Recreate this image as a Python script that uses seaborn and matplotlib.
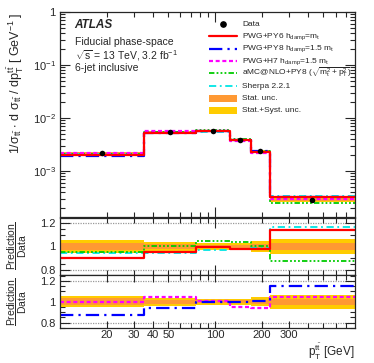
import numpy as np
import pandas as pd
import matplotlib
matplotlib.use("Agg")
import matplotlib.pyplot as plt
import seaborn as sns
from matplotlib.lines import Line2D
from matplotlib.patches import Rectangle
from matplotlib.ticker import FixedLocator, NullFormatter, FuncFormatter, MultipleLocator, LogLocator

# bins of p_T(ttbar) [GeV]
edges = [10, 35, 75, 125, 170, 225, 800]
centers = [18.7, 51.2, 96.8, 145.8, 195.6, 424.0]

# normalised differential cross-section [GeV^-1]
data = [2.20e-3, 5.40e-3, 5.70e-3, 3.90e-3, 2.35e-3, 2.84e-4]
stat_rel = [0.032, 0.020, 0.015, 0.012, 0.020, 0.030]
tot_rel = [0.055, 0.040, 0.030, 0.030, 0.043, 0.068]

# predictions [GeV^-1]
pwg_py6 = [1.98e-3, 5.16e-3, 5.67e-3, 3.82e-3, 2.30e-3, 3.24e-4]
pwg_py8 = [1.93e-3, 5.10e-3, 5.67e-3, 3.90e-3, 2.37e-3, 3.28e-4]
pwg_h7 = [2.20e-3, 5.62e-3, 5.73e-3, 3.72e-3, 2.20e-3, 2.98e-4]
amc_py8 = [2.10e-3, 5.40e-3, 5.99e-3, 4.04e-3, 2.35e-3, 2.49e-4]
sherpa = [2.08e-3, 5.10e-3, 5.53e-3, 3.82e-3, 2.31e-3, 3.31e-4]

RED = "#ff0000"
BLUE = "#0000ff"
MAG = "#ff00ff"
GREEN = "#00cc00"
CYAN = "#00e5e5"
ORANGE = "#ff9933"
YELLOW = "#ffcc00"

models = {
    "PWG+PY6": dict(vals=pwg_py6, color=RED, ls="-", lw=1.6,
                    label=r"PWG+PY6 h$_{\rm damp}$=m$_{\rm t}$"),
    "PWG+PY8": dict(vals=pwg_py8, color=BLUE, ls=(0, (6, 2.3, 1, 2.3)), lw=1.6,
                    label=r"PWG+PY8 h$_{\rm damp}$=1.5 m$_{\rm t}$"),
    "PWG+H7": dict(vals=pwg_h7, color=MAG, ls=(0, (1.8, 1.2)), lw=1.6,
                   label=r"PWG+H7 h$_{\rm damp}$=1.5 m$_{\rm t}$"),
    "aMC": dict(vals=amc_py8, color=GREEN, ls=(0, (3, 1.2, 1, 1.2, 1, 1.2, 1, 1.2)), lw=1.3,
                label=r"aMC@NLO+PY8 ($\sqrt{\rm m_t^2 + p_T^2}$)"),
    "Sherpa": dict(vals=sherpa, color=CYAN, ls=(0, (4, 2, 1, 2)), lw=1.3,
                   label="Sherpa 2.2.1"),
}

sns.set_theme(style="ticks")
plt.rcParams["font.family"] = ["Liberation Sans", "DejaVu Sans"]
plt.rcParams["mathtext.fontset"] = "custom"
plt.rcParams["mathtext.rm"] = "Liberation Sans"
plt.rcParams["mathtext.it"] = "Liberation Sans:italic"
plt.rcParams["mathtext.bf"] = "Liberation Sans:bold"
plt.rcParams["mathtext.default"] = "regular"

fig = plt.figure(figsize=(3.74, 3.63), dpi=100)
L, W = 0.160, 0.789
ax = fig.add_axes([L, 0.402, W, 0.565])
r1 = fig.add_axes([L, 0.243, W, 0.157])
r2 = fig.add_axes([L, 0.097, W, 0.145])

edges_a = np.array(edges, dtype=float)
data_a = np.array(data)


def ext(v):
    v = np.asarray(v, dtype=float)
    return np.append(v, v[-1])


def step_line(axis, y, color, ls, lw):
    df = pd.DataFrame({"x": edges_a, "y": ext(y)})
    sns.lineplot(data=df, x="x", y="y", ax=axis, color=color, linestyle=ls,
                 linewidth=lw, drawstyle="steps-post", estimator=None, sort=False)


# ---- top panel ----
tot = np.array(tot_rel)
st = np.array(stat_rel)
ax.fill_between(edges_a, ext(data_a * (1 - tot)), ext(data_a * (1 + tot)), step="post",
                color=YELLOW, lw=0)
ax.fill_between(edges_a, ext(data_a * (1 - st)), ext(data_a * (1 + st)), step="post",
                color=ORANGE, lw=0)
for key in ["Sherpa", "aMC", "PWG+H7", "PWG+PY8", "PWG+PY6"]:
    m = models[key]
    step_line(ax, m["vals"], m["color"], m["ls"], m["lw"])
sns.scatterplot(x=centers, y=data, ax=ax, color="black", s=16, linewidth=0, zorder=5)

ax.set_xscale("log")
ax.set_yscale("log")
ax.set_xlim(10, 800)
ax.set_ylim(1.35e-4, 1.0)
ax.yaxis.set_major_locator(LogLocator(base=10, numticks=10))
ax.yaxis.set_minor_locator(LogLocator(base=10, subs=np.arange(2, 10), numticks=20))


def yfmt(v, pos):
    e = int(round(np.log10(v)))
    return "1" if e == 0 else r"10$^{%d}$" % e


ax.yaxis.set_major_formatter(FuncFormatter(yfmt))
ax.yaxis.set_minor_formatter(NullFormatter())
ax.set_xlabel("")
ax.set_ylabel(r"1/$\sigma_{\rm t\bar{t}}$ $\cdot$ d $\sigma_{\rm t\bar{t}}$ / dp$^{\rm t\bar{t}}_{\rm T}$ [ GeV$^{-1}$ ]",
              fontsize=9, loc="top")
ax.yaxis.set_label_coords(-0.115, 1.0)

ax.text(0.05, 0.935, "ATLAS", transform=ax.transAxes, fontsize=8.5, fontweight="bold",
        fontstyle="italic", va="center")
ax.text(0.05, 0.855, "Fiducial phase-space", transform=ax.transAxes, fontsize=7.5, va="center")
ax.text(0.05, 0.787, r"$\sqrt{\rm s}$ = 13 TeV, 3.2 fb$^{-1}$", transform=ax.transAxes,
        fontsize=7.5, va="center")
ax.text(0.05, 0.727, "6-jet inclusive", transform=ax.transAxes, fontsize=7.5, va="center")

# legend, drawn row by row (axes coordinates)
row_y = [0.941, 0.882, 0.821, 0.760, 0.703, 0.637, 0.578, 0.520]
hx0, hx1, tx = 0.505, 0.600, 0.617
LFS = 6.0
ax.add_line(Line2D([(hx0 + hx1) / 2], [row_y[0]], transform=ax.transAxes, color="black",
                   marker="o", ls="none", ms=3.8))
ax.text(tx, row_y[0], "Data", transform=ax.transAxes, fontsize=LFS, va="center")
for i, key in enumerate(["PWG+PY6", "PWG+PY8", "PWG+H7", "aMC", "Sherpa"], start=1):
    m = models[key]
    ax.add_line(Line2D([hx0, hx1], [row_y[i], row_y[i]], transform=ax.transAxes,
                       color=m["color"], ls=m["ls"], lw=m["lw"]))
    ax.text(tx, row_y[i], m["label"], transform=ax.transAxes, fontsize=LFS, va="center")
for i, (col, lab) in enumerate([(ORANGE, "Stat. unc."), (YELLOW, "Stat.+Syst. unc.")], start=6):
    ax.add_patch(Rectangle((hx0, row_y[i] - 0.019), hx1 - hx0, 0.038, transform=ax.transAxes,
                           color=col, lw=0))
    ax.text(tx, row_y[i], lab, transform=ax.transAxes, fontsize=LFS, va="center")

# ---- ratio panels ----
ratio_sets = [
    (r1, ["Sherpa", "aMC", "PWG+PY6"], (0.758, 1.245)),
    (r2, ["PWG+H7", "PWG+PY8"], (0.75, 1.255)),
]
for rax, keys, ylim in ratio_sets:
    rax.fill_between(edges_a, ext(1 - tot), ext(1 + tot), step="post", color=YELLOW, lw=0)
    rax.fill_between(edges_a, ext(1 - st), ext(1 + st), step="post", color=ORANGE, lw=0)
    for yl in (0.8, 1.2):
        rax.axhline(yl, color="#999999", ls=(0, (1, 1)), lw=0.9, zorder=0.5)
    for key in keys:
        m = models[key]
        step_line(rax, np.array(m["vals"]) / data_a, m["color"], m["ls"], m["lw"])
    rax.set_xscale("log")
    rax.set_xlim(10, 800)
    rax.set_ylim(*ylim)
    rax.yaxis.set_major_locator(FixedLocator([0.8, 1.0, 1.2]))
    rax.yaxis.set_major_formatter(FuncFormatter(lambda v, p: "1" if abs(v - 1) < 1e-6 else "%.1f" % v))
    rax.yaxis.set_minor_locator(MultipleLocator(0.05))
    rax.set_ylabel(r"$\dfrac{\rm Prediction}{\rm Data}$", fontsize=7.5)
    rax.yaxis.set_label_coords(-0.105, 0.5)
    rax.set_xlabel("")

for a in (ax, r1, r2):
    a.tick_params(which="both", direction="in", top=True, right=True, labelsize=8, width=0.8)
    a.tick_params(which="major", length=7)
    a.tick_params(which="minor", length=3.5)
    for s in a.spines.values():
        s.set_linewidth(0.9)
    a.xaxis.set_major_locator(FixedLocator([100]))
    a.xaxis.set_minor_locator(FixedLocator([20, 30, 40, 50, 60, 70, 80, 90, 200, 300, 400, 500, 600, 700]))
    a.xaxis.set_minor_formatter(NullFormatter())
    a.xaxis.set_major_formatter(NullFormatter())
    a.tick_params(axis="y", pad=3)

r2.xaxis.set_major_locator(FixedLocator([20, 30, 40, 50, 100, 200, 300]))
r2.xaxis.set_minor_locator(FixedLocator([60, 70, 80, 90, 400, 500, 600, 700]))
r2.xaxis.set_major_formatter(FuncFormatter(lambda v, p: "%d" % v))
r2.tick_params(axis="x", which="major", length=5, pad=1.5)
r2.set_xlabel(r"p$_{\rm T}^{\rm t\bar{t}}$ [GeV]", fontsize=8.5, loc="right")
r2.xaxis.set_label_coords(1.0, -0.27)

fig.savefig("out.png", dpi=100)
